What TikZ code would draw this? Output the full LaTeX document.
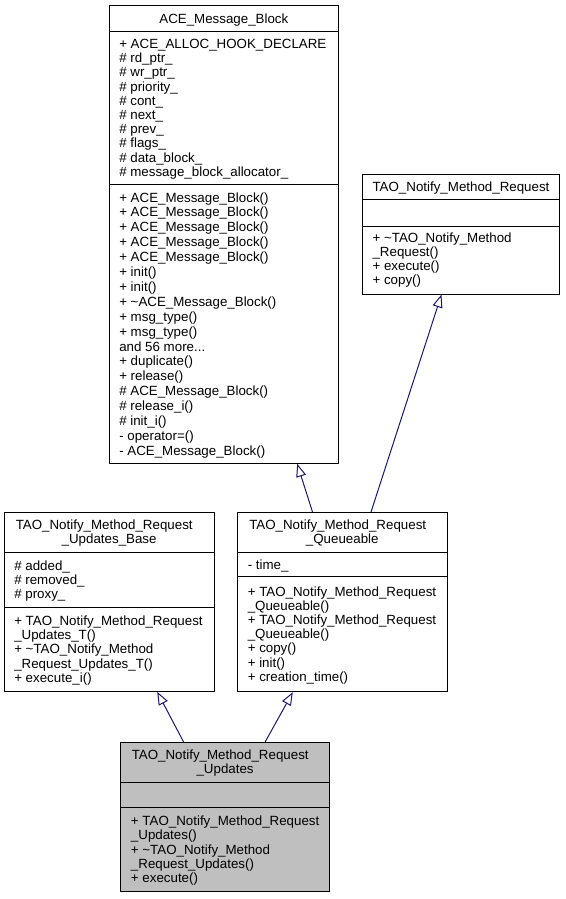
\documentclass[tikz,border=0pt]{standalone}
\usepackage{fontspec}
\setmainfont{Liberation Sans}
\usetikzlibrary{arrows.meta,fit,calc}
\definecolor{edgeblue}{HTML}{191970}
\definecolor{umlgray}{HTML}{BFBFBF}
\newcommand{\umllines}[1]{\begin{tabular}[t]{@{}l@{}}#1\end{tabular}}
\begin{document}
\begin{tikzpicture}[x=0.75pt,y=-0.75pt,
  box/.style={draw=black, line width=0.75pt, inner sep=0pt, fill=white},
  graybox/.style={box, fill=umlgray},
  txt/.style={inner sep=0pt, anchor=base west, font=\fontsize{10pt}{10.65pt}\selectfont},
  widetxt/.style={txt, font=\fontsize{10pt}{11.18pt}\selectfont},
  ttl/.style={inner sep=0pt, anchor=base, font=\fontsize{10pt}{10.65pt}\selectfont},
  sepline/.style={draw=black, line width=0.75pt},
  inh/.style={draw=edgeblue, line width=0.75pt, -{Triangle[open,length=9.75pt,width=7.5pt,fill=white]}}]
\useasboundingbox (0,0) rectangle (565,899);

% ---------- ACE_Message_Block ----------
\node[box, fit={(109,5.3) (338.7,463.3)}] (ace) {};
\draw[sepline] (109,32) -- (338.7,32);
\draw[sepline] (109,184.7) -- (338.7,184.7);
\node[ttl] (ace-t) at (223.85,23.5) {ACE\_Message\_Block};
\node[txt] (ace-a) at (119,48.5) {\umllines{+ ACE\_ALLOC\_HOOK\_DECLARE\\
\# rd\_ptr\_\\
\# wr\_ptr\_\\
\# priority\_\\
\# cont\_\\
\# next\_\\
\# prev\_\\
\# flags\_\\
\# data\_block\_\\
\# message\_block\_allocator\_}};
\node[widetxt] (ace-m) at (119,202) {\umllines{+ ACE\_Message\_Block()\\
+ ACE\_Message\_Block()\\
+ ACE\_Message\_Block()\\
+ ACE\_Message\_Block()\\
+ ACE\_Message\_Block()\\
+ init()\\
+ init()\\
+ \textasciitilde ACE\_Message\_Block()\\
+ msg\_type()\\
+ msg\_type()\\
and 56 more...\\
+ duplicate()\\
+ release()\\
\# ACE\_Message\_Block()\\
\# release\_i()\\
\# init\_i()\\
- operator=()\\
- ACE\_Message\_Block()}};

% ---------- TAO_Notify_Method_Request ----------
\node[box, fit={(362.3,174) (559.7,294)}] (nmr) {};
\draw[sepline] (362.3,199) -- (559.7,199);
\draw[sepline] (362.3,226) -- (559.7,226);
\node[ttl] (nmr-t) at (461,191) {TAO\_Notify\_Method\_Request};
\node[txt] (nmr-m) at (372.3,242) {\umllines{+ \textasciitilde TAO\_Notify\_Method\\
\_Request()\\
+ execute()\\
+ copy()}};

% ---------- TAO_Notify_Method_Request_Updates_Base ----------
\node[box, fit={(4,512.5) (214.3,691.3)}] (base) {};
\draw[sepline] (4,552.7) -- (214.3,552.7);
\draw[sepline] (4,607.3) -- (214.3,607.3);
\node[txt] (base-t1) at (15.5,529.5) {TAO\_Notify\_Method\_Request};
\node[ttl] (base-t2) at (109.15,543.8) {\_Updates\_Base};
\node[txt] (base-a) at (14,570.3) {\umllines{\# added\_\\
\# removed\_\\
\# proxy\_}};
\node[txt] (base-m) at (14,625.4) {\umllines{+ TAO\_Notify\_Method\_Request\\
\_Updates\_T()\\
+ \textasciitilde TAO\_Notify\_Method\\
\_Request\_Updates\_T()\\
+ execute\_i()}};

% ---------- TAO_Notify_Method_Request_Queueable ----------
\node[box, fit={(237.5,512.5) (447,691.7)}] (que) {};
\draw[sepline] (237.5,552.2) -- (447,552.2);
\draw[sepline] (237.5,576.7) -- (447,576.7);
\node[txt] (que-t1) at (249,529.5) {TAO\_Notify\_Method\_Request};
\node[ttl] (que-t2) at (342.25,543.8) {\_Queueable};
\node[txt] (que-a) at (247.5,569) {\umllines{- time\_}};
\node[txt] (que-m) at (247.5,596.1) {\umllines{+ TAO\_Notify\_Method\_Request\\
\_Queueable()\\
+ TAO\_Notify\_Method\_Request\\
\_Queueable()\\
+ copy()\\
+ init()\\
+ creation\_time()}};

% ---------- TAO_Notify_Method_Request_Updates ----------
\node[graybox, fit={(120.7,742.3) (329.5,891.7)}] (upd) {};
\draw[sepline] (120.7,782.3) -- (329.5,782.3);
\draw[sepline] (120.7,807.3) -- (329.5,807.3);
\node[txt] (upd-t1) at (131.5,759.7) {TAO\_Notify\_Method\_Request};
\node[ttl] (upd-t2) at (225.1,773.9) {\_Updates};
\node[txt] (upd-m) at (130.7,825.6) {\umllines{+ TAO\_Notify\_Method\_Request\\
\_Updates()\\
+ \textasciitilde TAO\_Notify\_Method\\
\_Request\_Updates()\\
+ execute()}};

% ---------- inheritance connectors ----------
\draw[inh] ($(que.north west)+(75.5,0)$) -- ($(ace.south west)+(188.7,0)$);
\draw[inh] ($(que.north west)+(134,0)$) -- ($(nmr.south west)+(79.7,0)$);
\draw[inh] ($(upd.north west)+(63.3,0)$) -- ($(base.south west)+(153.7,0)$);
\draw[inh] ($(upd.north west)+(145,0)$) -- ($(que.south west)+(55.8,0)$);
\end{tikzpicture}
\end{document}
